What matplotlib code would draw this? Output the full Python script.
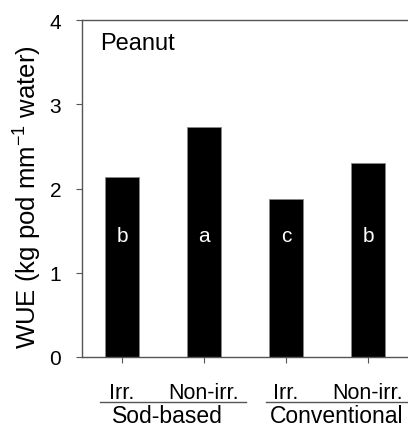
import matplotlib.pyplot as plt
import numpy as np

plt.rcParams['font.family'] = ['Liberation Sans', 'DejaVu Sans']
plt.rcParams['mathtext.fontset'] = 'custom'
plt.rcParams['mathtext.rm'] = 'Liberation Sans'
plt.rcParams['mathtext.it'] = 'Liberation Sans'

# data
treatments = ["Irr.", "Non-irr.", "Irr.", "Non-irr."]
wue = [2.14, 2.73, 1.87, 2.30]
letters = ["b", "a", "c", "b"]
systems = ["Sod-based", "Conventional"]

fig = plt.figure(figsize=(4.08, 4.27), dpi=100)
ax = fig.add_axes([0.201, 0.1616, 0.799, 0.7892])

x = np.arange(len(wue))
ax.bar(x, wue, width=0.415, color="black", edgecolor="#888888", linewidth=0.6)

for xi, lab in zip(x, letters):
    ax.text(xi, 1.44, lab, color="white", ha="center", va="center", fontsize=15)

ax.set_xlim(-0.488, 3.488)
ax.set_ylim(0, 4)
ax.set_yticks([0, 1, 2, 3, 4])
ax.set_xticks(x)
ax.set_xticklabels(treatments, fontsize=15.5)
ax.tick_params(axis="y", labelsize=15, length=4, pad=11, color="#555555")
ax.tick_params(axis="x", length=4, pad=14, color="#555555")

for s in ["left", "top", "bottom"]:
    ax.spines[s].set_color("#555555")
    ax.spines[s].set_linewidth(1)
ax.spines["right"].set_visible(False)

ax.set_ylabel("WUE (kg pod mm$^{-1}$ water)", fontsize=18.5)
ax.yaxis.set_label_coords(-0.118, 0.476)

ax.text(0.055, 0.932, "Peanut", transform=ax.transAxes, fontsize=17,
        ha="left", va="center")

# group labels under the tick labels
trans = ax.get_xaxis_transform()
ax.plot([-0.27, 1.51], [-0.1326, -0.1326], color="#555555", lw=1,
        transform=trans, clip_on=False)
ax.plot([1.76, 3.47], [-0.1326, -0.1326], color="#555555", lw=1,
        transform=trans, clip_on=False)
ax.text(0.55, -0.193, systems[0], transform=trans, ha="center", va="baseline",
        fontsize=16.5)
ax.text(2.62, -0.193, systems[1], transform=trans, ha="center", va="baseline",
        fontsize=16.5)

fig.savefig("out.png", dpi=100)
